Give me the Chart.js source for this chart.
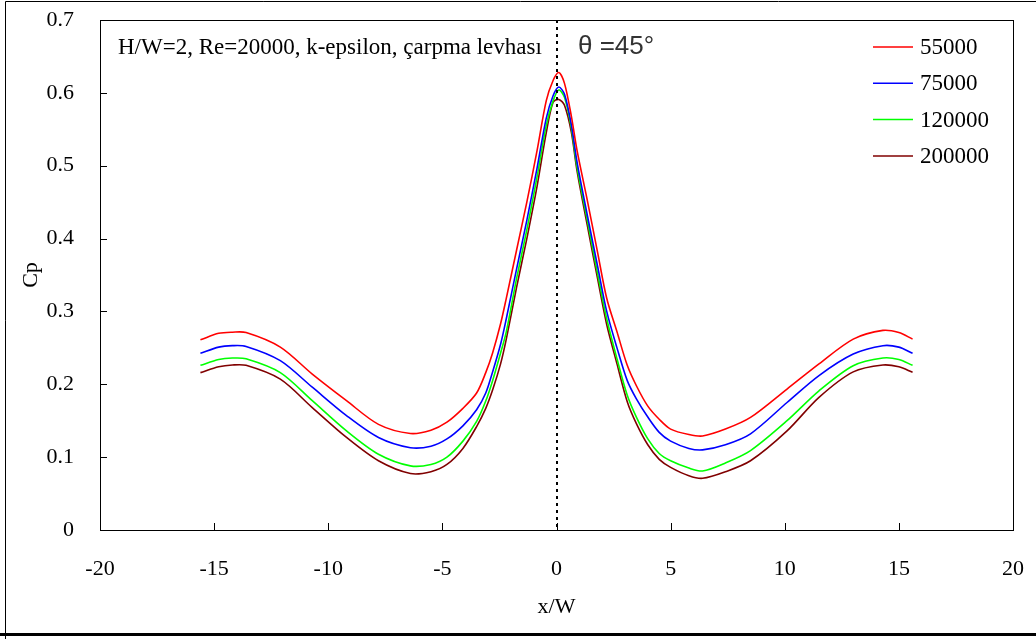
<!DOCTYPE html>
<html>
<head>
<meta charset="utf-8">
<script src="https://cdn.jsdelivr.net/npm/chart.js@4.4.0/dist/chart.umd.min.js"></script>
<style>
  html, body { margin: 0; padding: 0; background: #fff; }
  #wrap { width: 1036px; height: 639px; }
</style>
</head>
<body>
<div id="wrap"><canvas id="cpChart" width="1036" height="639"></canvas></div>
<script>
// x/W positions shared by all series
const xw = [-15.6, -14.8, -14.2, -13.6, -12.1, -10.7, -9.2, -7.8, -6.4, -5.5, -4.8, -4.1, -3.5, -3.1, -2.8, -2.45, -2.2, -1.75, -1.3, -0.85, -0.45, -0.15, 0.1, 0.35, 0.65, 0.9, 1.35, 1.8, 2.2, 2.65, 3.1, 3.5, 4.0, 4.5, 5.0, 5.8, 6.4, 7.4, 8.5, 10.1, 11.5, 13.0, 14.3, 15.0, 15.6];

const cp55000 = [0.261, 0.270, 0.2715, 0.271, 0.251, 0.214, 0.1775, 0.145, 0.1325, 0.137, 0.148, 0.167, 0.188, 0.216, 0.243, 0.283, 0.318, 0.384, 0.450, 0.521, 0.589, 0.617, 0.628, 0.613, 0.568, 0.521, 0.4525, 0.381, 0.318, 0.272, 0.226, 0.198, 0.170, 0.152, 0.1385, 0.131, 0.129, 0.1385, 0.1545, 0.1935, 0.228, 0.262, 0.274, 0.271, 0.262];
const cp75000 = [0.2425, 0.251, 0.253, 0.252, 0.2325, 0.196, 0.157, 0.127, 0.113, 0.115, 0.125, 0.143, 0.165, 0.188, 0.217, 0.255, 0.290, 0.358, 0.425, 0.497, 0.565, 0.596, 0.608, 0.598, 0.556, 0.505, 0.432, 0.362, 0.300, 0.250, 0.205, 0.180, 0.155, 0.134, 0.122, 0.112, 0.110, 0.117, 0.132, 0.175, 0.212, 0.2415, 0.253, 0.251, 0.2425];
const cp120000 = [0.226, 0.234, 0.236, 0.235, 0.216, 0.1775, 0.136, 0.104, 0.088, 0.090, 0.100, 0.122, 0.149, 0.177, 0.205, 0.243, 0.272, 0.345, 0.412, 0.485, 0.555, 0.589, 0.604, 0.594, 0.552, 0.498, 0.425, 0.352, 0.290, 0.235, 0.185, 0.155, 0.125, 0.105, 0.095, 0.085, 0.081, 0.092, 0.109, 0.150, 0.191, 0.2255, 0.236, 0.234, 0.226];
const cp200000 = [0.216, 0.224, 0.2265, 0.226, 0.207, 0.168, 0.127, 0.095, 0.0775, 0.080, 0.090, 0.112, 0.142, 0.167, 0.192, 0.228, 0.262, 0.333, 0.400, 0.472, 0.545, 0.587, 0.591, 0.583, 0.546, 0.493, 0.418, 0.345, 0.282, 0.228, 0.176, 0.146, 0.117, 0.097, 0.086, 0.0745, 0.071, 0.080, 0.095, 0.136, 0.182, 0.217, 0.2265, 0.224, 0.2165];

const seriesNames = ['55000', '75000', '120000', '200000'];
const seriesColors = ['#ff0000', '#0000ff', '#00ff00', '#800000'];
const seriesValues = [cp55000, cp75000, cp120000, cp200000];

const xTicks = [-20, -15, -10, -5, 0, 5, 10, 15, 20];
const yTicks = [0, 0.1, 0.2, 0.3, 0.4, 0.5, 0.6, 0.7];

const noteText = 'H/W=2, Re=20000, k-epsilon, çarpma levhası';
const angleText = 'θ =45°';

const serif = '"Liberation Serif", "Times New Roman", serif';

// frame, inward ticks, dotted x=0 line, notes and legend
const decorations = {
    id: 'decorations',
    afterDraw(chart) {
        const ctx = chart.ctx;
        const a = chart.chartArea;
        const xs = chart.scales.x, ys = chart.scales.y;
        ctx.save();

        // outer frame
        ctx.strokeStyle = '#000';
        ctx.lineWidth = 1;
        ctx.beginPath();
        ctx.moveTo(5.5, 639); ctx.lineTo(5.5, 1.5); ctx.lineTo(1036, 1.5);
        ctx.stroke();
        ctx.lineWidth = 3;
        ctx.beginPath();
        ctx.moveTo(0, 634.5); ctx.lineTo(1036, 634.5);
        ctx.stroke();

        // plot border
        ctx.lineWidth = 1;
        ctx.strokeRect(Math.round(a.left) + 0.5, Math.round(a.top) + 0.5, Math.round(a.right - a.left), Math.round(a.bottom - a.top));

        // inward tick marks
        ctx.beginPath();
        yTicks.forEach(v => {
            const y = Math.round(ys.getPixelForValue(v)) + 0.5;
            ctx.moveTo(a.left, y); ctx.lineTo(a.left + 7, y);
        });
        xTicks.forEach(v => {
            const x = Math.round(xs.getPixelForValue(v)) + 0.5;
            ctx.moveTo(x, a.bottom); ctx.lineTo(x, a.bottom - 7);
        });
        ctx.stroke();

        // dotted line at x/W = 0
        const x0 = Math.round(xs.getPixelForValue(0));
        ctx.lineWidth = 2;
        ctx.setLineDash([3, 4]);
        ctx.beginPath();
        ctx.moveTo(x0, a.top); ctx.lineTo(x0, a.bottom);
        ctx.stroke();
        ctx.setLineDash([]);

        // notes
        ctx.fillStyle = '#000';
        ctx.textBaseline = 'middle';
        ctx.textAlign = 'left';
        ctx.font = '23px ' + serif;
        ctx.fillText(noteText, 118, 48);
        ctx.fillStyle = '#333';
        ctx.font = '26px "Liberation Sans", Arial, sans-serif';
        ctx.fillText(angleText, 578, 47);

        // legend
        ctx.font = '23px ' + serif;
        chart.data.datasets.forEach((ds, i) => {
            const y = 47 + i * 36.3;
            ctx.strokeStyle = ds.borderColor;
            ctx.lineWidth = 1.5;
            ctx.beginPath();
            ctx.moveTo(873, y); ctx.lineTo(913, y);
            ctx.stroke();
            ctx.fillStyle = '#000';
            ctx.fillText(ds.label, 920, y + 1);
        });
        ctx.restore();
    }
};

const ctx = document.getElementById('cpChart').getContext('2d');
const cpChart = new Chart(ctx, {
    type: 'line',
    data: {
        datasets: seriesNames.map((name, i) => ({
            label: name,
            data: xw.map((x, j) => ({ x: x, y: seriesValues[i][j] })),
            borderColor: seriesColors[i],
            borderWidth: 1.6,
            pointRadius: 0,
            fill: false,
            tension: 0.3
        }))
    },
    options: {
        responsive: false,
        animation: false,
        layout: { padding: { top: 20, right: 23, left: 0, bottom: 0 } },
        plugins: {
            legend: { display: false },
            tooltip: { enabled: false }
        },
        scales: {
            x: {
                type: 'linear',
                min: -20,
                max: 20,
                afterBuildTicks: s => { s.ticks = xTicks.map(v => ({ value: v })); },
                grid: { display: false },
                border: { display: false },
                ticks: { color: '#000', font: { family: serif, size: 22 }, padding: 18, maxRotation: 0 },
                title: { display: true, text: 'x/W', color: '#000', font: { family: serif, size: 22 }, padding: { top: 4, bottom: 19 } },
                afterFit: s => { s.height = 109; s.paddingLeft = 0; s.paddingRight = 0; }
            },
            y: {
                min: 0,
                max: 0.7,
                afterBuildTicks: s => { s.ticks = yTicks.map(v => ({ value: v })); },
                grid: { display: false },
                border: { display: false },
                ticks: { color: '#000', font: { family: serif, size: 22 }, padding: 18, callback: v => v === 0 ? '0' : v.toFixed(1) },
                title: { display: true, text: 'Cp', color: '#000', font: { family: serif, size: 22 }, padding: { top: 18, bottom: 0 } },
                afterFit: s => { s.width = 100; s.paddingTop = 0; s.paddingBottom = 0; }
            }
        }
    },
    plugins: [decorations]
});
</script>
</body>
</html>
